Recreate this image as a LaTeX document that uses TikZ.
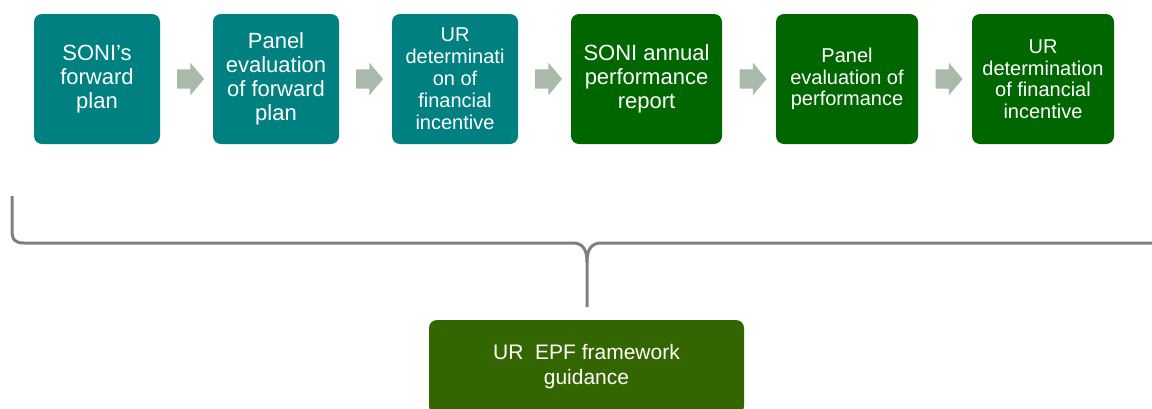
\documentclass[tikz,border=0pt]{standalone}
\usepackage{fontspec}
\setmainfont{Liberation Sans}
\usetikzlibrary{shapes.arrows}
\usetikzlibrary{calc}

\definecolor{planteal}{HTML}{008080}
\definecolor{perfgreen}{HTML}{006600}
\definecolor{guidegreen}{HTML}{336600}
\definecolor{arrowgrey}{HTML}{AAB9AA}
\definecolor{bracegrey}{HTML}{808080}

\tikzset{
  stage/.style={rounded corners=8pt, text=white, align=center, inner sep=0pt, minimum height=130pt},
  bigtext/.style={font=\fontsize{22}{24}\selectfont},
  smalltext/.style={font=\fontsize{20}{21.5}\selectfont},
  flowarrow/.style={single arrow, fill=arrowgrey, draw=none, inner xsep=0pt, inner ysep=9.5pt,
    minimum height=27pt, single arrow head extend=6.5pt, single arrow tip angle=100},
  brace/.style={draw=bracegrey, line width=3pt}
}

\begin{document}
\begin{tikzpicture}[x=1pt,y=-1pt]
  \useasboundingbox (0,0) rectangle (1152,408);

  % forward plan stages
  \node (plan)    at (97,79)  [stage, fill=planteal, minimum width=126pt, bigtext] {SONI’s\\forward\\plan};
  \node (paneval) at (276,79) [stage, fill=planteal, minimum width=126pt, bigtext] {Panel\\evaluation\\of forward\\plan};
  \node (urplan)  at (455,79) [stage, fill=planteal, minimum width=126pt, font=\fontsize{20}{22}\selectfont] {UR\\determinati\\on of\\financial\\incentive};
  % performance stages
  \node (report)  at (646.5,79) [stage, fill=perfgreen, minimum width=151pt, bigtext] {SONI annual\\performance\\report};
  \node (panperf) at (847,79)   [stage, fill=perfgreen, minimum width=142pt, smalltext] {Panel\\evaluation of\\performance};
  \node (urperf)  at (1043,79)  [stage, fill=perfgreen, minimum width=142pt, smalltext] {UR\\determination\\of financial\\incentive};

  \node (a1) at ($(plan.east)!.5!(paneval.west)$)   [flowarrow] {};
  \node (a2) at ($(paneval.east)!.5!(urplan.west)$) [flowarrow] {};
  \node (a3) at ($(urplan.east)!.5!(report.west)$)  [flowarrow] {};
  \node (a4) at ($(report.east)!.5!(panperf.west)$) [flowarrow] {};
  \node (a5) at ($(panperf.east)!.5!(urperf.west)$) [flowarrow] {};

  % brace
  \draw[brace] (12,196) -- (12,230) .. controls (12,240) and (15,243) .. (24,243) -- (573,243)
    .. controls (583,243) and (587,250) .. (587,262) -- (587,307);
  \draw[brace] (587,262) .. controls (587,250) and (591,243) .. (601,243) -- (1160,243);

  \node (guide) at (586.5,367) [stage, fill=guidegreen, minimum width=315pt, minimum height=94pt,
    font=\fontsize{21}{25}\selectfont] {UR\ \ EPF framework\\guidance};
\end{tikzpicture}
\end{document}
